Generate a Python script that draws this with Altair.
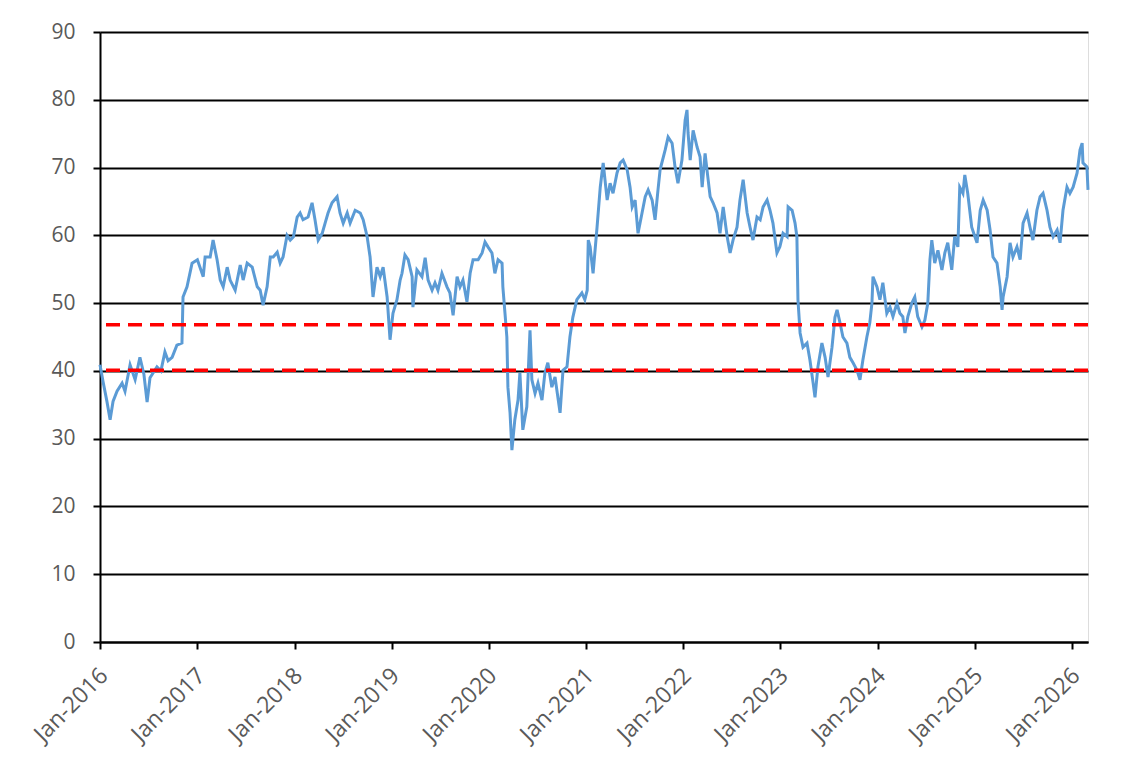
import altair as alt
import pandas as pd

# ---- data (date, value) ----
d2016 = ["2016-01-01","2016-01-12","2016-01-27","2016-02-08","2016-02-19","2016-03-05","2016-03-24","2016-04-04",
         "2016-04-23","2016-05-12","2016-05-30","2016-06-14","2016-06-26","2016-07-07","2016-08-02","2016-08-17",
         "2016-09-01","2016-09-13","2016-09-28","2016-10-16","2016-11-04","2016-11-08","2016-11-23","2016-12-12"]
v2016 = [40.9,38.5,35.5,32.8,35.5,37.0,38.2,37.0,40.9,38.7,42.0,39.5,35.4,39.0,40.6,40.0,
         42.8,41.5,42.0,43.8,44.1,50.9,52.4,55.9]

d2017 = ["2017-01-01","2017-01-23","2017-01-30","2017-02-18","2017-03-01","2017-03-16","2017-03-28","2017-04-08",
         "2017-04-23","2017-05-04","2017-05-23","2017-06-11","2017-06-22","2017-07-07","2017-07-26","2017-08-14",
         "2017-08-25","2017-09-05","2017-09-20","2017-10-02","2017-10-13","2017-10-28","2017-11-08","2017-11-19",
         "2017-12-04","2017-12-16","2017-12-28"]
v2017 = [56.4,53.9,56.8,56.8,59.3,56.4,53.4,52.4,55.3,53.4,51.9,55.6,53.4,55.9,55.3,52.4,
         51.9,49.7,52.4,56.8,56.8,57.5,55.9,56.8,60.0,59.3,59.8]

d2018 = ["2018-01-11","2018-01-22","2018-02-02","2018-02-21","2018-03-08","2018-03-19","2018-03-31","2018-04-15",
         "2018-04-26","2018-05-07","2018-05-22","2018-06-10","2018-06-21","2018-07-03","2018-07-18","2018-07-29",
         "2018-08-17","2018-09-05","2018-09-16","2018-10-01","2018-10-12","2018-10-23","2018-11-07","2018-11-19",
         "2018-11-30","2018-12-15","2018-12-26"]
v2018 = [62.7,63.3,62.3,62.7,64.8,62.3,59.3,60.3,61.8,63.3,64.8,65.7,63.3,61.8,63.3,61.8,
         63.7,63.3,62.3,59.8,56.8,50.9,55.3,53.9,55.3,50.9,44.6]

d2019 = ["2019-01-06","2019-01-21","2019-02-02","2019-02-09","2019-02-20","2019-03-04","2019-03-19","2019-03-22",
         "2019-04-06","2019-04-25","2019-05-07","2019-05-18","2019-06-02","2019-06-13","2019-06-24","2019-07-09",
         "2019-07-28","2019-08-08","2019-08-20","2019-09-04","2019-09-15","2019-09-26","2019-10-11","2019-10-23",
         "2019-11-03","2019-11-22","2019-12-07","2019-12-18","2019-12-29"]
v2019 = [48.5,50.5,53.4,54.4,57.1,56.4,53.9,49.4,54.9,53.9,56.7,53.4,51.9,53.0,51.9,54.4,
         52.4,51.5,48.2,53.9,52.4,53.4,50.2,54.4,56.4,56.4,57.4,59.0,58.3]

d2020 = ["2020-01-13","2020-01-24","2020-02-05","2020-02-20","2020-02-23","2020-03-02","2020-03-09","2020-03-13",
         "2020-03-21","2020-03-28","2020-04-08","2020-04-20","2020-04-27","2020-05-08","2020-05-23","2020-06-04",
         "2020-06-11","2020-06-23","2020-07-04","2020-07-19","2020-07-30","2020-08-10","2020-08-25","2020-09-06",
         "2020-09-25","2020-10-06","2020-10-21","2020-11-01","2020-11-12","2020-11-27","2020-12-16","2020-12-27"]
v2020 = [57.4,54.4,56.4,55.9,52.4,48.5,45.0,37.6,33.8,28.3,32.8,35.7,39.7,31.3,34.7,46.0,
         38.7,36.7,38.2,35.7,39.7,41.2,37.6,39.1,33.8,40.1,40.6,45.0,47.9,50.5,51.5,50.5]

d2021 = ["2021-01-05","2021-01-09","2021-01-16","2021-01-27","2021-02-11","2021-02-23","2021-03-06","2021-03-21",
         "2021-04-01","2021-04-12","2021-04-27","2021-05-09","2021-05-20","2021-06-04","2021-06-15","2021-06-23",
         "2021-07-04","2021-07-15","2021-07-30","2021-08-11","2021-08-22","2021-09-06","2021-09-17","2021-09-28",
         "2021-10-06","2021-10-25","2021-11-05","2021-11-20","2021-12-01","2021-12-12","2021-12-27"]
v2021 = [51.9,59.3,58.3,54.4,61.2,67.1,70.7,65.2,67.7,66.2,69.2,70.7,71.1,69.7,67.1,64.2,
         65.2,60.3,63.3,65.7,66.7,65.2,62.3,66.7,69.7,72.6,74.5,73.6,70.1,67.7,71.1]

d2022 = ["2022-01-08","2022-01-15","2022-01-19","2022-01-27","2022-02-07","2022-02-22","2022-03-05","2022-03-13",
         "2022-03-24","2022-03-31","2022-04-12","2022-04-23","2022-05-08","2022-05-19","2022-05-31","2022-06-15",
         "2022-06-26","2022-07-07","2022-07-22","2022-08-02","2022-08-14","2022-08-29","2022-09-09","2022-09-20",
         "2022-10-05","2022-10-17","2022-10-28","2022-11-12","2022-11-23","2022-12-04","2022-12-19","2022-12-30"]
v2022 = [77.0,78.5,75.1,71.1,75.5,73.0,71.6,67.1,72.1,69.7,65.7,64.8,63.3,60.3,64.2,59.8,
         57.4,59.3,61.2,65.2,68.2,63.3,61.2,59.3,62.7,62.3,64.2,65.2,63.7,61.8,57.4,58.3]

d2023 = ["2023-01-11","2023-01-26","2023-01-30","2023-02-14","2023-02-25","2023-03-04","2023-03-08","2023-03-16",
         "2023-03-27","2023-04-11","2023-04-22","2023-05-04","2023-05-11","2023-05-22","2023-06-06","2023-06-18",
         "2023-06-29","2023-07-14","2023-07-25","2023-08-02","2023-08-13","2023-08-24","2023-09-08","2023-09-19",
         "2023-10-01","2023-10-16","2023-10-27","2023-11-07","2023-11-22","2023-12-03","2023-12-11","2023-12-15",
         "2023-12-30"]
v2023 = [60.3,59.8,64.2,63.7,61.8,59.8,50.5,45.6,43.5,44.1,41.6,38.2,36.1,40.6,44.1,42.0,
         39.1,43.5,47.9,49.0,47.1,45.0,44.1,42.0,41.2,40.1,38.7,41.6,45.0,47.1,50.0,53.9,52.4]

d2024 = ["2024-01-10","2024-01-21","2024-02-05","2024-02-17","2024-02-28","2024-03-14","2024-03-25","2024-04-05",
         "2024-04-13","2024-04-24","2024-05-09","2024-05-20","2024-05-31","2024-06-16","2024-06-27","2024-07-08",
         "2024-07-16","2024-07-23","2024-08-03","2024-08-15","2024-08-30","2024-09-10","2024-09-21","2024-10-06",
         "2024-10-17","2024-10-29","2024-11-05","2024-11-17","2024-11-24","2024-12-05","2024-12-20"]
v2024 = [50.5,53.0,48.5,49.4,48.0,50.0,48.5,48.0,45.6,48.0,50.0,50.9,48.0,46.5,47.5,50.0,
         56.4,59.3,55.9,57.8,54.9,57.4,58.9,54.9,59.8,58.3,67.1,66.2,68.9,66.2,61.2]

d2025 = ["2025-01-01","2025-01-09","2025-01-21","2025-02-01","2025-02-16","2025-02-27","2025-03-10","2025-03-25",
         "2025-04-06","2025-04-13","2025-04-17","2025-05-02","2025-05-13","2025-05-24","2025-06-08","2025-06-20",
         "2025-07-01","2025-07-16","2025-07-27","2025-08-07","2025-08-22","2025-09-03","2025-09-14","2025-09-29",
         "2025-10-10","2025-10-22","2025-11-06","2025-11-17","2025-11-28","2025-12-13","2025-12-24"]
v2025 = [59.8,58.9,63.7,65.2,63.7,60.8,56.8,55.9,52.4,49.0,50.9,53.9,58.9,56.8,58.3,56.4,
         61.8,63.3,61.2,59.3,63.7,65.7,66.2,63.7,61.2,59.8,60.8,58.9,63.7,67.1,66.2]

d2026 = ["2026-01-05","2026-01-20","2026-01-31","2026-02-08","2026-02-11","2026-02-26","2026-03-02"]
v2026 = [67.1,69.2,72.6,73.6,70.7,70.1,66.7]

ref_levels = [46.8, 40.1]
y_ticks = [0, 10, 20, 30, 40, 50, 60, 70, 80, 90]
x_tick_years = list(range(2016, 2027))

dates = d2016 + d2017 + d2018 + d2019 + d2020 + d2021 + d2022 + d2023 + d2024 + d2025 + d2026
values = v2016 + v2017 + v2018 + v2019 + v2020 + v2021 + v2022 + v2023 + v2024 + v2025 + v2026
df = pd.DataFrame({"date": dates, "value": values})
ref_df = pd.DataFrame({"level": ref_levels})

FONT = "Open Sans"
LABEL_COLOR = "#595959"

x_scale = alt.Scale(
    type="utc",
    domain=[alt.DateTime(year=2016, month=1, date=1, utc=True),
            alt.DateTime(year=2026, month=3, date=2, utc=True)],
    nice=False,
)
y_scale = alt.Scale(domain=[0, 90], nice=False)

line = alt.Chart(df).mark_line(color="#5B9BD5", strokeWidth=3).encode(
    x=alt.X("date:T", scale=x_scale, title=None,
            axis=alt.Axis(values=[alt.DateTime(year=y, month=1, date=1, utc=True) for y in x_tick_years],
                          labelExpr="utcFormat(datum.value, '%b-%Y')", labelAngle=-45, grid=False,
                          domainColor="black", domainWidth=2, tickColor="black", tickWidth=2, tickSize=7,
                          labelFont=FONT, labelFontSize=23, labelColor=LABEL_COLOR, labelPadding=15,
                          labelOffset=-4)),
    y=alt.Y("value:Q", scale=y_scale, title=None,
            axis=alt.Axis(values=y_ticks, grid=True, gridColor="black", gridWidth=1.8,
                          domainColor="black", domainWidth=2, tickColor="black", tickWidth=2, tickSize=7,
                          labelFont=FONT, labelFontSize=21, labelColor=LABEL_COLOR, labelPadding=18)),
)

rules = alt.Chart(ref_df).mark_rule(color="#FF0000", strokeWidth=3.5, strokeDash=[14, 8]).encode(
    y=alt.Y("level:Q", scale=y_scale),
)

chart = alt.layer(line, rules).properties(
    width=988,
    height=610,
    padding={"left": 92, "top": 24, "right": 40, "bottom": 124},
    autosize=alt.AutoSizeParams(type="none"),
).configure_view(stroke="black", strokeWidth=1.8).configure(background="white")

chart.save("out.html", embed_options={"renderer": "svg", "actions": False})
